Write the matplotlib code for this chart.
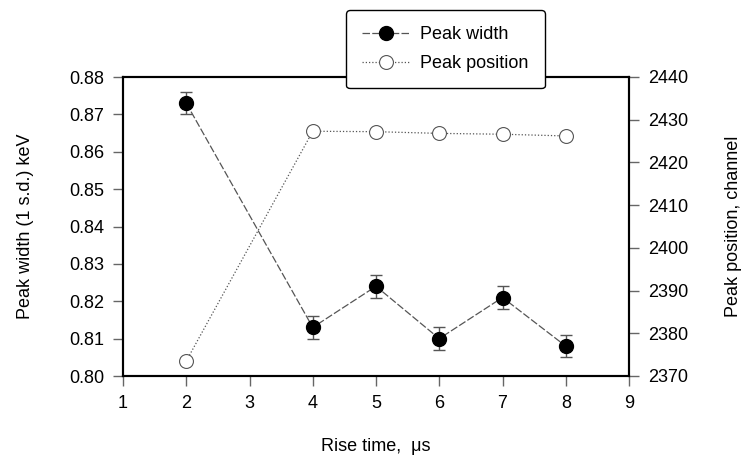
import matplotlib
matplotlib.use('Agg')
import matplotlib.pyplot as plt

plt.rcParams['font.family'] = ['Liberation Sans', 'DejaVu Sans']

rise_time = [2, 4, 5, 6, 7, 8]
peak_width = [0.873, 0.813, 0.824, 0.810, 0.821, 0.808]
width_err = [0.003, 0.003, 0.003, 0.003, 0.003, 0.003]
peak_position = [2373.5, 2427.3, 2427.2, 2426.8, 2426.6, 2426.2]

x_ticks = [1, 2, 3, 4, 5, 6, 7, 8, 9]
left_ticks = [0.80, 0.81, 0.82, 0.83, 0.84, 0.85, 0.86, 0.87, 0.88]
right_ticks = [2370, 2380, 2390, 2400, 2410, 2420, 2430, 2440]

fig = plt.figure(figsize=(7.42, 4.59), dpi=100)
ax = fig.add_axes([123 / 742, 1 - 376 / 459, (629 - 123) / 742, (376 - 77) / 459])
ax2 = ax.twinx()

line_col = '#555555'

ax.errorbar(rise_time, peak_width, yerr=width_err, fmt='none', ecolor='#555555',
            elinewidth=1, capsize=4.5, capthick=1, zorder=3)
h1, = ax.plot(rise_time, peak_width, color=line_col, lw=0.9, linestyle=(0, (6, 1.8)),
              marker='o', markersize=10, markerfacecolor='black', markeredgecolor='black',
              zorder=4, label='Peak width')

h2, = ax2.plot(rise_time, peak_position, color=line_col, lw=0.9, linestyle=(0, (1, 1.6)),
               marker='o', markersize=10, markerfacecolor='white', markeredgecolor='#555555',
               markeredgewidth=0.8, label='Peak position')

ax.set_xlim(1, 9)
ax.set_ylim(0.80, 0.88)
ax2.set_ylim(2370, 2440)
ax.set_xticks(x_ticks)
ax.set_yticks(left_ticks)
ax.set_yticklabels([f'{v:.2f}' for v in left_ticks])
ax2.set_yticks(right_ticks)

for a in (ax, ax2):
    for s in a.spines.values():
        s.set_linewidth(1.5)
        s.set_color('black')
    a.tick_params(direction='out', length=7.5, width=1, color='#666666',
                  labelsize=13, pad=6)

ax.set_xlabel('Rise time,  \u03bcs', fontsize=13, labelpad=19)
ax.set_ylabel('Peak width (1 s.d.) keV', fontsize=13, labelpad=25)
ax2.set_ylabel('Peak position, channel', fontsize=13, labelpad=27)

leg = fig.legend(handles=[h1, h2], loc='upper left',
                 bbox_to_anchor=(346 / 742, 1 - 10 / 459),
                 fontsize=13, frameon=True, fancybox=True, handlelength=2.6,
                 handletextpad=0.6, borderpad=0.9, labelspacing=0.65,
                 borderaxespad=0)
leg.get_frame().set_edgecolor('black')
leg.get_frame().set_linewidth(1.0)
leg.get_frame().set_facecolor('white')
leg.get_frame().set_alpha(1)
leg.set_zorder(10)

fig.savefig('out.png', dpi=100)
